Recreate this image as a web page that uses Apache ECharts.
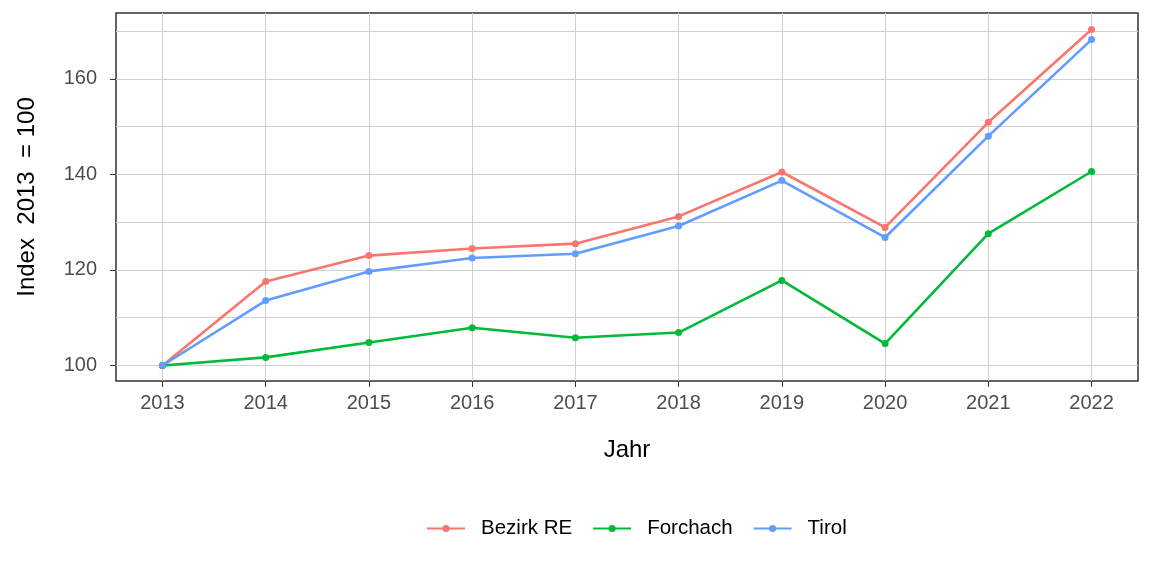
<!DOCTYPE html>
<html>
<head>
<meta charset="utf-8">
<script src="https://cdn.jsdelivr.net/npm/echarts@6/dist/echarts.min.js"></script>
<style>
  html, body { margin: 0; padding: 0; background: #fff; }
  #chart { width: 1152px; height: 576px; }
</style>
</head>
<body>
<div id="chart"></div>
<script>
// Werte
var years = [2013, 2014, 2015, 2016, 2017, 2018, 2019, 2020, 2021, 2022]
var bezirkRE = [100, 117.6, 123.0, 124.5, 125.5, 131.2, 140.5, 128.9, 150.9, 170.3]
var forchach = [100, 101.7, 104.8, 107.9, 105.8, 106.9, 117.8, 104.6, 127.6, 140.6]
var tirol = [100, 113.6, 119.7, 122.5, 123.4, 129.2, 138.7, 126.8, 148.0, 168.2]
var yLabels = [100, 120, 140, 160]
var yGrid = [100, 110, 120, 130, 140, 150, 160, 170]

var font = 'Liberation Sans, Arial, sans-serif'

function toPairs (vals) {
  return vals.map(function (v, i) { return [years[i], v] })
}

function makeSeries (name, vals, color) {
  return {
    name: name,
    type: 'line',
    data: toPairs(vals),
    symbol: 'circle',
    symbolSize: 7,
    lineStyle: { width: 2.6, color: color },
    itemStyle: { color: color },
    emphasis: { disabled: true },
    animation: false
  }
}

var myChart = echarts.init(document.getElementById('chart'))
myChart.setOption({
  backgroundColor: '#fff',
  grid: {
    left: 116,
    right: 14,
    top: 13,
    bottom: 195,
    show: true,
    borderColor: '#333',
    borderWidth: 1.5
  },
  legend: {
    left: 421,
    top: 513,
    itemWidth: 38,
    itemHeight: 9,
    itemGap: 20,
    textStyle: { fontFamily: font, fontSize: 20.5, color: '#000', padding: [0, 0, 0, 11] },
    data: ['Bezirk RE', 'Forchach', 'Tirol']
  },
  xAxis: {
    type: 'value',
    min: 2012.55,
    max: 2022.45,
    name: 'Jahr',
    nameLocation: 'middle',
    nameGap: 57,
    nameTextStyle: { fontFamily: font, fontSize: 24, color: '#000' },
    axisLine: { show: false },
    axisTick: { show: true, length: 6, lineStyle: { color: '#333' }, customValues: years },
    axisLabel: {
      customValues: years,
      margin: 12,
      fontFamily: font,
      fontSize: 20,
      color: '#4d4d4d',
      formatter: function (v) { return String(v) }
    },
    splitLine: { show: true, lineStyle: { color: '#d0d0d0', width: 1 } }
  },
  yAxis: [
    {
      type: 'value',
      min: 96.76,
      max: 173.77,
      name: 'Index  2013  = 100',
      nameLocation: 'middle',
      nameGap: 77,
      nameTextStyle: { fontFamily: font, fontSize: 24, color: '#000' },
      axisLine: { show: false },
      axisTick: { show: false, customValues: yGrid },
      axisLabel: {
        customValues: yLabels,
        margin: 19,
        fontFamily: font,
        fontSize: 20,
        color: '#4d4d4d'
      },
      splitLine: { show: true, lineStyle: { color: '#d0d0d0', width: 1 } }
    },
    {
      type: 'value',
      position: 'left',
      min: 96.76,
      max: 173.77,
      axisLine: { show: false },
      axisTick: { show: true, length: 6, lineStyle: { color: '#333' }, customValues: yLabels },
      axisLabel: { show: false },
      splitLine: { show: false }
    }
  ],
  series: [
    makeSeries('Bezirk RE', bezirkRE, '#F8766D'),
    makeSeries('Forchach', forchach, '#00BA38'),
    makeSeries('Tirol', tirol, '#619CFF')
  ]
})
</script>
</body>
</html>
